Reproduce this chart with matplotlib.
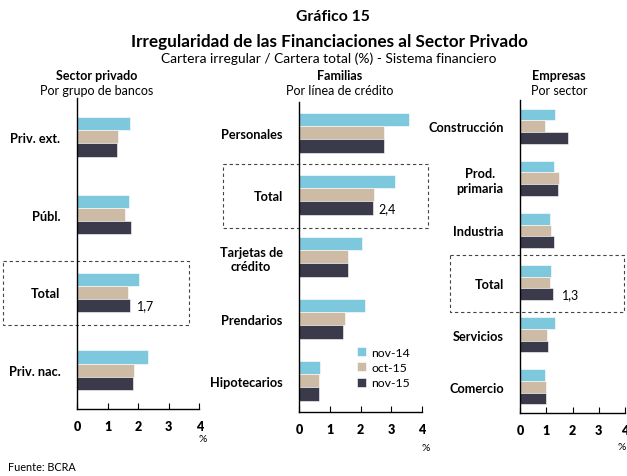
import matplotlib
matplotlib.use("Agg")
import matplotlib.pyplot as plt
from matplotlib.patches import Rectangle
import numpy as np

plt.rcParams['font.family'] = ['Lato', 'DejaVu Sans']

series = ['nov-14', 'oct-15', 'nov-15']
colors = ['#7EC8DE', '#CDBBA5', '#3B3A4A']

# Panel 1: Sector privado por grupo de bancos
cats1 = ['Priv. ext.', 'Públ.', 'Total', 'Priv. nac.']
nov14_1 = [1.74, 1.69, 2.02, 2.31]
oct15_1 = [1.33, 1.56, 1.68, 1.86]
nov15_1 = [1.30, 1.78, 1.73, 1.84]

# Panel 2: Familias por línea de crédito
cats2 = ['Personales', 'Total', 'Tarjetas de\ncrédito', 'Prendarios', 'Hipotecarios']
nov14_2 = [3.58, 3.11, 2.03, 2.14, 0.67]
oct15_2 = [2.77, 2.42, 1.60, 1.49, 0.65]
nov15_2 = [2.77, 2.41, 1.59, 1.42, 0.65]

# Panel 3: Empresas por sector
cats3 = ['Construcción', 'Prod.\nprimaria', 'Industria', 'Total', 'Servicios', 'Comercio']
nov14_3 = [1.34, 1.28, 1.14, 1.18, 1.32, 0.95]
oct15_3 = [0.93, 1.50, 1.18, 1.15, 1.02, 0.97]
nov15_3 = [1.83, 1.46, 1.30, 1.26, 1.06, 0.97]

total_labels = ['1,7', '2,4', '1,3']
xticks = [0, 1, 2, 3, 4]

W, H = 627, 477
fig = plt.figure(figsize=(W / 100, H / 100), dpi=100)


def ax_px(x0, x1, ytop, ybot):
    return fig.add_axes([x0 / W, 1 - ybot / H, (x1 - x0) / W, (ybot - ytop) / H])


panels = [
    dict(cats=cats1, vals=[nov14_1, oct15_1, nov15_1], pos=(77, 199.3, 99, 410),
         h=0.17, title='Sector privado', sub='Por grupo de bancos', tx=97,
         box=(-2.42, 3.67, -0.40, 0.42), pct=(1.03, -0.095), lab=total_labels[0], loff=5),
    dict(cats=cats2, vals=[nov14_2, oct15_2, nov15_2], pos=(299.3, 422, 102.7, 412.7),
         h=0.214, title='Familias', sub='Por línea de crédito', tx=340,
         box=(-2.5, 4.19, -0.50, 0.53), pct=(1.03, -0.115), lab=total_labels[1], loff=4),
    dict(cats=cats3, vals=[nov14_3, oct15_3, nov15_3], pos=(520.3, 624.7, 101, 414),
         h=0.224, title='Empresas', sub='Por sector', tx=559,
         box=(-2.69, 3.97, -0.52, 0.56), pct=(0.97, -0.107), lab=total_labels[2], loff=6),
]

legend_ax = None
for i, p in enumerate(panels):
    ax = ax_px(*p['pos'])
    n = len(p['cats'])
    y = np.arange(n)
    h = p['h']
    for k, (vals, c) in enumerate(zip(p['vals'], colors)):
        ax.barh(y + (k - 1) * h, vals, height=h, color=c, edgecolor='white',
                linewidth=0.4, label=series[k])
    ax.set_ylim(n - 0.5, -0.5)
    ax.set_xlim(0, 4)
    ax.set_xticks(xticks)
    ax.set_xticklabels([str(t) for t in xticks], fontweight='heavy', fontsize=9)
    ax.tick_params(axis='x', direction='in', length=4, width=0.8, pad=8, color='black')
    ax.set_yticks(y)
    ax.set_yticklabels(p['cats'], fontweight='bold', fontsize=9.2, ha='right',
                       multialignment='center', linespacing=1.25)
    ax.tick_params(axis='y', length=0, pad=12)
    for s in ['top', 'right']:
        ax.spines[s].set_visible(False)
    ax.spines['left'].set_linewidth(1.0)
    ax.spines['bottom'].set_linewidth(1.0)

    ti = p['cats'].index('Total')
    x0, x1, y0, y1 = p['box']
    ax.add_patch(Rectangle((x0, ti + y0), x1 - x0, y1 - y0, fill=False,
                           linestyle=(0, (3, 2.5)), linewidth=0.8, edgecolor='#444444',
                           clip_on=False))
    tv = p['vals'][2][ti]
    ax.annotate(p['lab'], (tv, ti + h), xytext=(p['loff'], 0), textcoords='offset points',
                va='center', ha='left', fontsize=9)
    ax.text(p['pct'][0], p['pct'][1], '%', transform=ax.transAxes, fontsize=7.5,
            ha='center', va='center')

    fig.text(p['tx'] / W, 1 - 76 / H, p['title'], fontweight='bold', fontsize=9,
             ha='center', va='center')
    fig.text(p['tx'] / W, 1 - 91 / H, p['sub'], fontsize=9, ha='center', va='center')
    if i == 1:
        legend_ax = ax

legend_ax.legend(loc='upper left', bbox_to_anchor=(0.43, 0.225), frameon=False,
                 handlelength=0.75, handleheight=0.75, handletextpad=0.4,
                 labelspacing=0.35, fontsize=8.8, borderaxespad=0)

fig.text(333 / W, 1 - 17 / H, 'Gráfico 15', fontweight='bold', fontsize=11.3,
         ha='center', va='center')
fig.text(329 / W, 1 - 42 / H, 'Irregularidad de las Financiaciones al Sector Privado',
         fontweight='bold', fontsize=12.3, ha='center', va='center')
fig.text(329 / W, 1 - 59 / H, 'Cartera irregular / Cartera total (%) - Sistema financiero',
         fontsize=9.9, ha='center', va='center')
fig.text(8 / W, 1 - 468 / H, 'Fuente: BCRA', fontsize=7.8, ha='left', va='center')

fig.savefig('out.png', dpi=100)
